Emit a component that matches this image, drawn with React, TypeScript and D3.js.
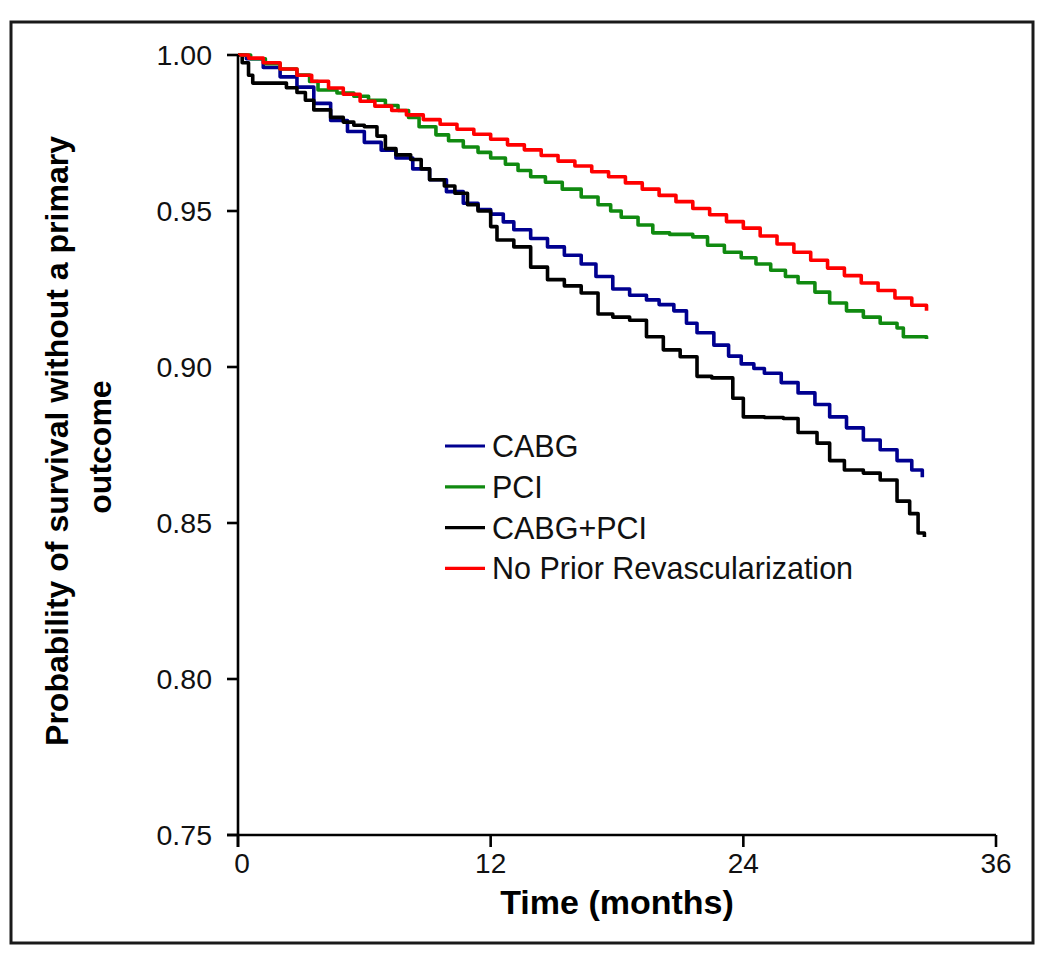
import React from "react";
import * as d3 from "d3";

// ---- data ----
const seriesNames = ["CABG", "PCI", "CABG+PCI", "No Prior Revascularization"];
const seriesColors = ["#000090", "#108a10", "#000000", "#ff0000"];

const cabgTimes = [0, 0.4, 1.2, 2, 2.8, 3.6, 4.4, 5.2, 6, 6.8, 7.5, 8.3, 9.1, 9.9, 10.7, 11.4, 12, 12.6, 13.1, 13.9, 14.7, 15.5, 16.3, 17, 17.8, 18.6, 19.4, 20, 20.7, 21.3, 21.8, 22.6, 23.3, 23.9, 24.5, 25, 25.8, 26.6, 27.4, 28.1, 28.9, 29.7, 30.5, 31.3, 32, 32.5];
const cabgValues = [1.0, 0.9988, 0.996, 0.993, 0.9897, 0.9845, 0.979, 0.9755, 0.972, 0.9695, 0.967, 0.9635, 0.96, 0.9562, 0.9525, 0.9505, 0.949, 0.9465, 0.944, 0.9412, 0.9385, 0.9358, 0.933, 0.929, 0.925, 0.923, 0.9215, 0.92, 0.918, 0.914, 0.911, 0.907, 0.9035, 0.901, 0.8995, 0.898, 0.895, 0.8917, 0.888, 0.884, 0.8805, 0.8766, 0.8735, 0.87, 0.867, 0.8647];

const pciTimes = [0, 0.6, 1.3, 2, 2.8, 3.4, 3.8, 4.7, 5.5, 6.2, 7, 7.6, 8.1, 8.6, 9.4, 10, 10.7, 11.4, 12, 12.7, 13.3, 13.9, 14.6, 15.4, 16.3, 17.1, 17.7, 18.2, 19, 19.7, 20.5, 21.6, 22.3, 23.1, 23.9, 24.6, 25.3, 26, 26.6, 27.4, 28.1, 28.9, 29.7, 30.5, 31.3, 31.6, 32.7];
const pciValues = [1.0, 0.9988, 0.9972, 0.9955, 0.9936, 0.9915, 0.9888, 0.9878, 0.9868, 0.9855, 0.9838, 0.9822, 0.98, 0.977, 0.9744, 0.9725, 0.9705, 0.9688, 0.967, 0.965, 0.963, 0.961, 0.9592, 0.957, 0.9545, 0.952, 0.95, 0.948, 0.9455, 0.943, 0.9425, 0.9417, 0.939, 0.9368, 0.935, 0.933, 0.931, 0.929, 0.927, 0.924, 0.9205, 0.918, 0.916, 0.914, 0.9125, 0.9097, 0.909];

const bothTimes = [0, 0.2, 0.5, 0.7, 1.8, 2.3, 2.8, 3.2, 3.6, 4.4, 5, 5.5, 6, 6.6, 7, 7.5, 8.2, 8.7, 9.1, 9.8, 10.3, 10.9, 11.4, 12, 12.3, 13.1, 13.9, 14.7, 15.5, 16.3, 17.1, 17.8, 18.6, 19.4, 20.2, 21, 21.8, 22.5, 23.2, 23.5, 24, 25, 25.9, 26.6, 27.5, 28.1, 28.8, 29.7, 30.5, 31.3, 31.9, 32.3, 32.6];
const bothValues = [1.0, 0.9975, 0.9935, 0.991, 0.991, 0.9895, 0.988, 0.9855, 0.9824, 0.98, 0.9785, 0.9775, 0.977, 0.974, 0.97, 0.968, 0.9665, 0.9635, 0.96, 0.958, 0.9557, 0.952, 0.95, 0.945, 0.9407, 0.9385, 0.932, 0.928, 0.926, 0.9237, 0.917, 0.916, 0.915, 0.9097, 0.9055, 0.9033, 0.897, 0.8965, 0.8965, 0.89, 0.884, 0.8838, 0.8835, 0.879, 0.8756, 0.87, 0.867, 0.866, 0.8638, 0.857, 0.853, 0.8468, 0.8455];

const noneTimes = [0, 0.5, 1.2, 2, 2.8, 3.5, 4.3, 5, 5.8, 6.5, 7.3, 8, 8.8, 9.6, 10.4, 11.2, 12, 12.8, 13.6, 14.4, 15.2, 16, 16.8, 17.6, 18.4, 19.2, 20, 20.8, 21.6, 22.4, 23.2, 24, 24.8, 25.6, 26.4, 27.2, 28, 28.8, 29.6, 30.4, 31.2, 32, 32.7];
const noneValues = [1.0, 0.999, 0.9975, 0.9955, 0.9935, 0.9916, 0.9894, 0.9874, 0.9852, 0.9836, 0.9822, 0.9808, 0.9793, 0.9778, 0.9762, 0.9746, 0.973, 0.9712, 0.9696, 0.9678, 0.966, 0.9644, 0.9626, 0.961, 0.959, 0.957, 0.955, 0.953, 0.9508, 0.9488, 0.9466, 0.9445, 0.942, 0.9394, 0.9368, 0.9342, 0.9317, 0.9293, 0.9269, 0.9245, 0.9221, 0.9198, 0.918];

const xTicks = [0, 12, 24, 36];
const yTicks = [0.75, 0.8, 0.85, 0.9, 0.95, 1.0];

const seriesTimes = [cabgTimes, pciTimes, bothTimes, noneTimes];
const seriesValues = [cabgValues, pciValues, bothValues, noneValues];
// draw order: red on top
const drawOrder = [0, 2, 1, 3];

const FONT = "Arial, 'Liberation Sans', Helvetica, sans-serif";

export default function App() {
  const W = 1050;
  const H = 962;
  const x = d3.scaleLinear().domain([0, 36]).range([238, 996]);
  const y = d3.scaleLinear().domain([0.75, 1.0]).range([835, 55]);

  const line = d3
    .line<[number, number]>()
    .x((d) => x(d[0]))
    .y((d) => y(d[1]))
    .curve(d3.curveStepAfter);

  const legendX = 445;
  const legendY0 = 446;
  const legendDy = 40.8;

  return (
    <div style={{ position: "absolute", left: 0, top: 0 }}>
      <svg width={W} height={H} style={{ display: "block", background: "#fff" }}>
        <rect x={11} y={22} width={1022} height={921} fill="#fff" stroke="#1a1a1a" strokeWidth={3} />

        {/* curves */}
        {drawOrder.map((i) => {
          const pts: [number, number][] = seriesTimes[i].map((t, k) => [t, seriesValues[i][k]]);
          return (
            <path
              key={seriesNames[i]}
              d={line(pts) || ""}
              fill="none"
              stroke={seriesColors[i]}
              strokeWidth={3.6}
              strokeLinejoin="round"
            />
          );
        })}

        {/* axes */}
        <line x1={x(0)} x2={x(0)} y1={y(1.0)} y2={y(0.75) + 12} stroke="#000" strokeWidth={2.6} />
        <line x1={x(0) - 11} x2={x(36)} y1={y(0.75)} y2={y(0.75)} stroke="#000" strokeWidth={2.6} />
        {yTicks.map((v) => (
          <g key={"y" + v}>
            <line x1={x(0) - 11} x2={x(0)} y1={y(v)} y2={y(v)} stroke="#000" strokeWidth={2.6} />
            <text
              x={212}
              y={y(v)}
              dy="0.36em"
              textAnchor="end"
              fontFamily={FONT}
              fontSize={28.5}
              fill="#111"
            >
              {v.toFixed(2)}
            </text>
          </g>
        ))}
        {xTicks.map((t) => (
          <g key={"x" + t}>
            <line x1={x(t)} x2={x(t)} y1={y(0.75)} y2={y(0.75) + 12} stroke="#000" strokeWidth={2.6} />
            <text
              x={x(t) + (t === 0 ? 4 : 0)}
              y={873}
              textAnchor="middle"
              fontFamily={FONT}
              fontSize={28}
              fill="#111"
            >
              {t}
            </text>
          </g>
        ))}

        {/* axis titles */}
        <text
          x={617}
          y={914}
          textAnchor="middle"
          fontFamily={FONT}
          fontWeight="bold"
          fontSize={34}
          fill="#000"
        >
          Time (months)
        </text>
        <g transform="translate(68,441) rotate(-90)">
          <text x={0} y={0} textAnchor="middle" fontFamily={FONT} fontWeight="bold" fontSize={32} fill="#000">
            Probability of survival without a primary
          </text>
        </g>
        <g transform="translate(111,447) rotate(-90)">
          <text x={0} y={0} textAnchor="middle" fontFamily={FONT} fontWeight="bold" fontSize={32} fill="#000">
            outcome
          </text>
        </g>

        {/* legend */}
        {seriesNames.map((name, i) => (
          <g key={"lg" + name}>
            <line
              x1={legendX}
              x2={legendX + 40}
              y1={legendY0 + i * legendDy}
              y2={legendY0 + i * legendDy}
              stroke={seriesColors[i]}
              strokeWidth={3.2}
            />
            <text
              x={legendX + 47}
              y={legendY0 + i * legendDy}
              dy="0.36em"
              fontFamily={FONT}
              fontSize={30.5}
              fill="#111"
            >
              {name}
            </text>
          </g>
        ))}
      </svg>
    </div>
  );
}
